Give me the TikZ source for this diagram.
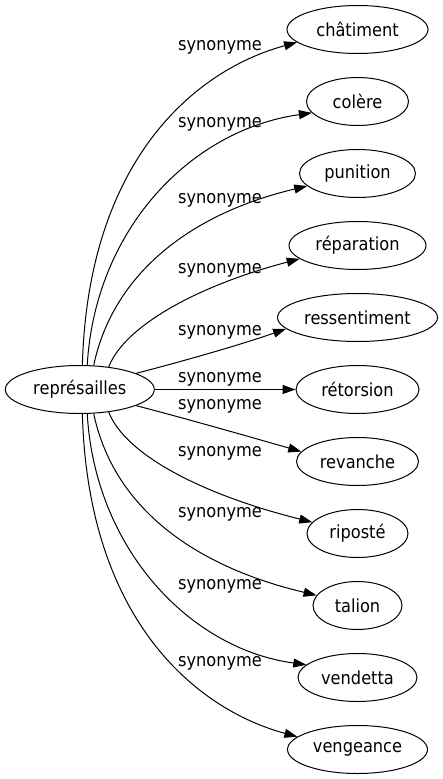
\documentclass[tikz,border=0pt]{standalone}
\usepackage{fontspec}
\setmainfont{DejaVu Sans}[FakeStretch=0.9]
\usetikzlibrary{shapes.geometric,arrows.meta}
\begin{document}
\begin{tikzpicture}[x=1pt,y=-1pt,
  word/.style={ellipse,draw,line width=1pt,inner sep=0pt,minimum height=48pt,font=\fontsize{18}{20}\selectfont},
  lbl/.style={inner sep=0pt,font=\fontsize{18}{20}\selectfont},
  rel/.style={line width=1pt,-{Triangle[length=13pt,width=9pt]}}]
\useasboundingbox (0,0) rectangle (443,779);
\node[word,minimum width=149pt] (rep) at (79.8,389.5) {représailles};
\node[word,minimum width=141pt] (t1) at (357.5,29.5) {châtiment};
\node[word,minimum width=102pt] (t2) at (357.5,101.5) {colère};
\node[word,minimum width=116pt] (t3) at (357.5,173.5) {punition};
\node[word,minimum width=137pt] (t4) at (357.5,245.5) {réparation};
\node[word,minimum width=160pt] (t5) at (357.5,317.5) {ressentiment};
\node[word,minimum width=123pt] (t6) at (357.5,389.5) {rétorsion};
\node[word,minimum width=122pt] (t7) at (357.5,461.5) {revanche};
\node[word,minimum width=101pt] (t8) at (357.5,533.5) {riposté};
\node[word,minimum width=89pt] (t9) at (357.5,605.5) {talion};
\node[word,minimum width=119pt] (t10) at (357.5,677.5) {vendetta};
\node[word,minimum width=140pt] (t11) at (357.5,749.5) {vengeance};
\foreach \n/\y in {1/47,2/124,3/200,4/270,5/332,6/379,7/406,8/453,9/514,10/586,11/663}
  \node[lbl] (l\n) at (220,\y) {synonyme};
\draw[rel] (rep.84.6) .. controls (88,160) and (195,70) .. (t1.192);
\draw[rel] (rep.73) .. controls (95,230) and (190,130) .. (t2.194);
\draw[rel] (rep.60.7) .. controls (112,278) and (185,215) .. (t3.194);
\draw[rel] (rep.38.3) .. controls (125,325) and (200,285) .. (t4.193.4);
\draw[rel] (rep.16.4) .. controls (180,362) and (240,345) .. (t5.189.3);
\draw[rel] (rep.east) -- (t6.west);
\draw[rel] (rep.-16.4) .. controls (180,417) and (240,434) .. (t7.170.7);
\draw[rel] (rep.-38.3) .. controls (125,454) and (200,494) .. (t8.166.6);
\draw[rel] (rep.-60.7) .. controls (112,501) and (185,564) .. (t9.166);
\draw[rel] (rep.-73) .. controls (95,549) and (190,649) .. (t10.166);
\draw[rel] (rep.-84.6) .. controls (88,619) and (195,709) .. (t11.168);
\end{tikzpicture}
\end{document}
